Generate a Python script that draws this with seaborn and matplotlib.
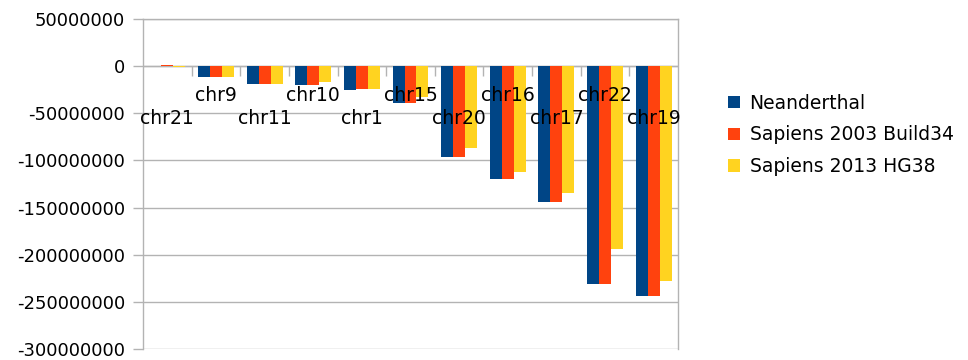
import matplotlib
matplotlib.use("Agg")
import matplotlib.pyplot as plt
import matplotlib.ticker as mticker
import numpy as np
import pandas as pd
import seaborn as sns

# %% data
chroms = ["chr21", "chr9", "chr11", "chr10", "chr1", "chr15",
          "chr20", "chr16", "chr17", "chr22", "chr19"]
neanderthal = [0, -12e6, -18.5e6, -20e6, -25.5e6, -39e6,
               -96.5e6, -120e6, -144e6, -231e6, -244e6]
sapiens_2003 = [1.5e6, -12e6, -18.5e6, -20e6, -24.5e6, -39e6,
                -96.5e6, -120e6, -144e6, -231e6, -244e6]
sapiens_2013 = [-0.8e6, -11e6, -18.5e6, -17e6, -24e6, -33e6,
                -87e6, -112e6, -135e6, -194e6, -228e6]
series = ["Neanderthal", "Sapiens 2003 Build34", "Sapiens 2013 HG38"]
colors = ["#004586", "#ff420e", "#ffd320"]
yticks = [50e6, 0, -50e6, -100e6, -150e6, -200e6, -250e6, -300e6]

df = pd.DataFrame({
    "chrom": chroms * 3,
    "value": neanderthal + sapiens_2003 + sapiens_2013,
    "series": np.repeat(series, len(chroms)),
})

# %% plot
sns.set_style("white")
plt.rcParams["font.family"] = ["DejaVu Sans"]
plt.rcParams["text.color"] = "black"
grid_c = "#b3b3b3"

fig = plt.figure(figsize=(9.68, 3.6), dpi=100)
ax = fig.add_axes([143 / 968, 1 - 349 / 360, (678 - 143) / 968, (349 - 19) / 360])

sns.barplot(data=df, x="chrom", y="value", hue="series",
            order=chroms, hue_order=series, palette=colors,
            width=0.74, saturation=1, linewidth=0, ax=ax, legend=True)

ax.set_ylim(-300e6, 50e6)
ax.set_xlim(-0.5, len(chroms) - 0.5)
ax.set_yticks(yticks)
ax.yaxis.set_major_formatter(mticker.FuncFormatter(lambda v, p: f"{v:.0f}"))
ax.yaxis.grid(True, color=grid_c, linewidth=1)
ax.set_axisbelow(True)
ax.set_xlabel("")
ax.set_ylabel("")

# x axis crosses at zero, staggered labels drawn over the bars
ax.spines["bottom"].set_position(("data", 0))
for s in ["bottom", "left", "right", "top"]:
    ax.spines[s].set_color(grid_c)
    ax.spines[s].set_linewidth(1)
ax.spines["bottom"].set_visible(False)
ax.axhline(0, color=grid_c, lw=1, zorder=0.5)
ax.xaxis.set_zorder(3)

ax.tick_params(axis="y", length=7, width=1, color=grid_c, pad=6,
               labelsize=13, labelcolor="black", left=True)
ax.tick_params(axis="x", which="major", length=0, labelsize=13.5,
               labelcolor="black", bottom=True)
ax.set_xticks(np.arange(len(chroms) - 1) + 0.5, minor=True)
ax.tick_params(axis="x", which="minor", length=7, width=1, color=grid_c,
               direction="out", bottom=True)
for i, tick in enumerate(ax.xaxis.get_major_ticks()):
    tick.set_pad(31 if i % 2 == 0 else 14.5)

# legend
handles, labels = ax.get_legend_handles_labels()
ax.legend(handles, labels, loc="center left", frameon=False,
          bbox_to_anchor=(728 / 968, 1 - 135 / 360), bbox_transform=fig.transFigure,
          fontsize=13.5, handlelength=0.65, handleheight=0.65, labelcolor="black",
          handletextpad=0.5, labelspacing=0.68, borderpad=0, borderaxespad=0)

fig.savefig("out.png", dpi=100)
